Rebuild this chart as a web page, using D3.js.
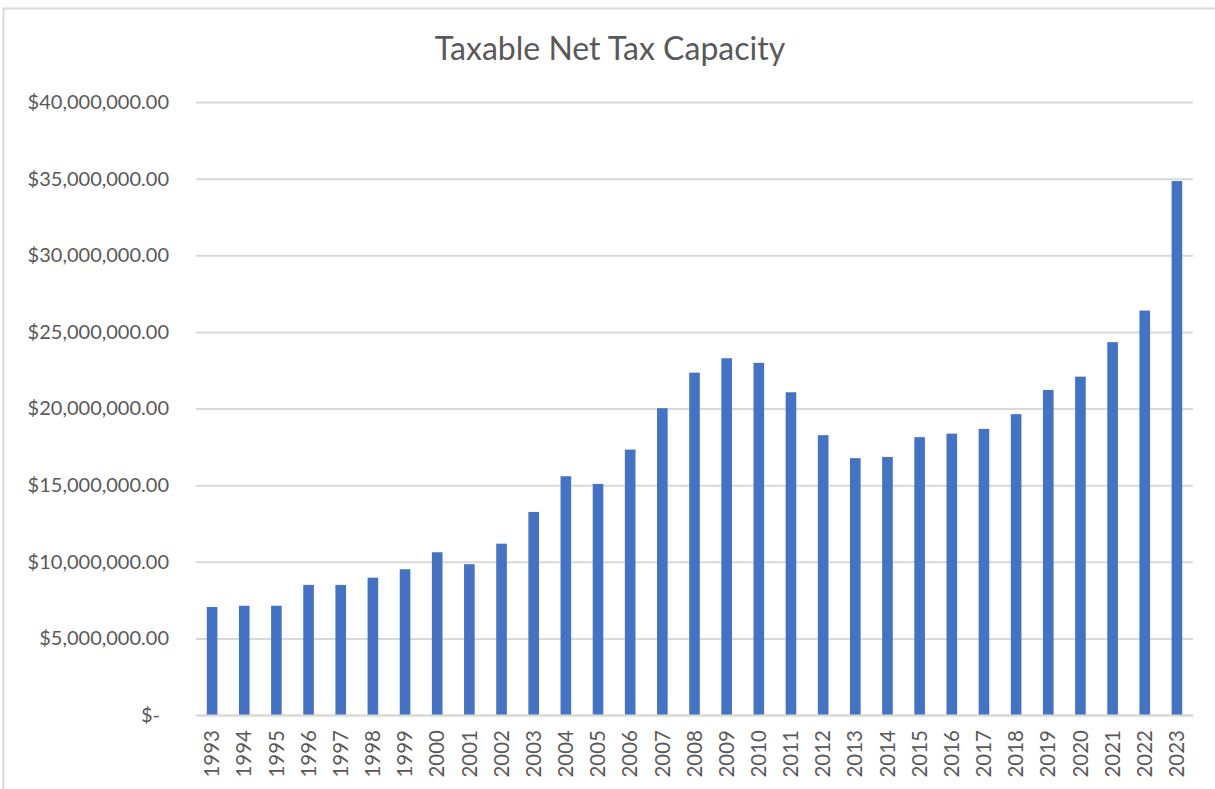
<!DOCTYPE html>
<html>
<head>
<meta charset="utf-8">
<script src="https://cdn.jsdelivr.net/npm/d3@7"></script>
<style>
  body { margin: 0; background: #fff; }
  svg text { font-family: Lato, "Open Sans", sans-serif; fill: #595959; }
</style>
</head>
<body>
<script>
// data
var years = ["1993","1994","1995","1996","1997","1998","1999","2000","2001","2002",
             "2003","2004","2005","2006","2007","2008","2009","2010","2011","2012",
             "2013","2014","2015","2016","2017","2018","2019","2020","2021","2022","2023"];
var capacity = [7050000, 7130000, 7130000, 8490000, 8490000, 8960000, 9510000, 10620000, 9840000, 11180000,
                13250000, 15580000, 15080000, 17320000, 20020000, 22340000, 23280000, 22980000, 21060000, 18260000,
                16760000, 16840000, 18130000, 18360000, 18670000, 19630000, 21210000, 22080000, 24330000, 26390000, 34840000];
var yTicks = [0, 5000000, 10000000, 15000000, 20000000, 25000000, 30000000, 35000000, 40000000];

var W = 1215, H = 789;
var plotL = 196, plotR = 1193, plotT = 102, plotB = 715;

var svg = d3.select("body").append("svg")
    .attr("width", W)
    .attr("height", H);

// chart frame
svg.append("rect")
    .attr("x", 3.5).attr("y", 8.5)
    .attr("width", W + 10).attr("height", H + 10)
    .attr("fill", "none")
    .attr("stroke", "#d9d9d9")
    .attr("stroke-width", 2);

var x = d3.scaleBand()
    .domain(years)
    .range([plotL, plotR])
    .paddingInner(0.67)
    .paddingOuter(0.335);

var y = d3.scaleLinear()
    .domain([0, 40000000])
    .range([plotB, plotT]);

var money = d3.format(",.2f");

// gridlines + y labels
var yAxis = d3.axisLeft(y)
    .tickValues(yTicks)
    .tickSize(-(plotR - plotL))
    .tickPadding(28)
    .tickFormat(function(d){ return d === 0 ? "$-" : "$" + money(d); });

var gy = svg.append("g")
    .attr("transform", "translate(" + plotL + ",0)")
    .call(yAxis);
gy.select(".domain").remove();
gy.selectAll(".tick line")
    .attr("stroke", "#d9d9d9")
    .attr("stroke-width", 2);
gy.selectAll(".tick text")
    .attr("font-size", 20)
    .attr("fill", "#595959")
    .attr("x", function(d){ return d === 0 ? -36 : -27; });

// bars
svg.selectAll("rect.bar")
    .data(capacity)
  .enter().append("rect")
    .attr("class", "bar")
    .attr("x", function(d, i){ return x(years[i]); })
    .attr("width", x.bandwidth())
    .attr("y", function(d){ return y(d); })
    .attr("height", function(d){ return plotB - y(d); })
    .attr("fill", "#4472c4");

// x axis, rotated year labels
var xAxis = d3.axisBottom(x).tickSize(0).tickPadding(0);
var gx = svg.append("g")
    .attr("transform", "translate(0," + plotB + ")")
    .call(xAxis);
gx.select(".domain").attr("stroke", "#d9d9d9").attr("stroke-width", 2);
gx.selectAll(".tick text")
    .attr("font-size", 20.5)
    .attr("fill", "#595959")
    .attr("transform", "rotate(-90)")
    .attr("x", -15)
    .attr("y", 0)
    .attr("dy", "0.35em")
    .attr("text-anchor", "end");

// title
svg.append("text")
    .attr("x", 610)
    .attr("y", 60)
    .attr("text-anchor", "middle")
    .attr("font-size", 32)
    .text("Taxable Net Tax Capacity");
</script>
</body>
</html>
